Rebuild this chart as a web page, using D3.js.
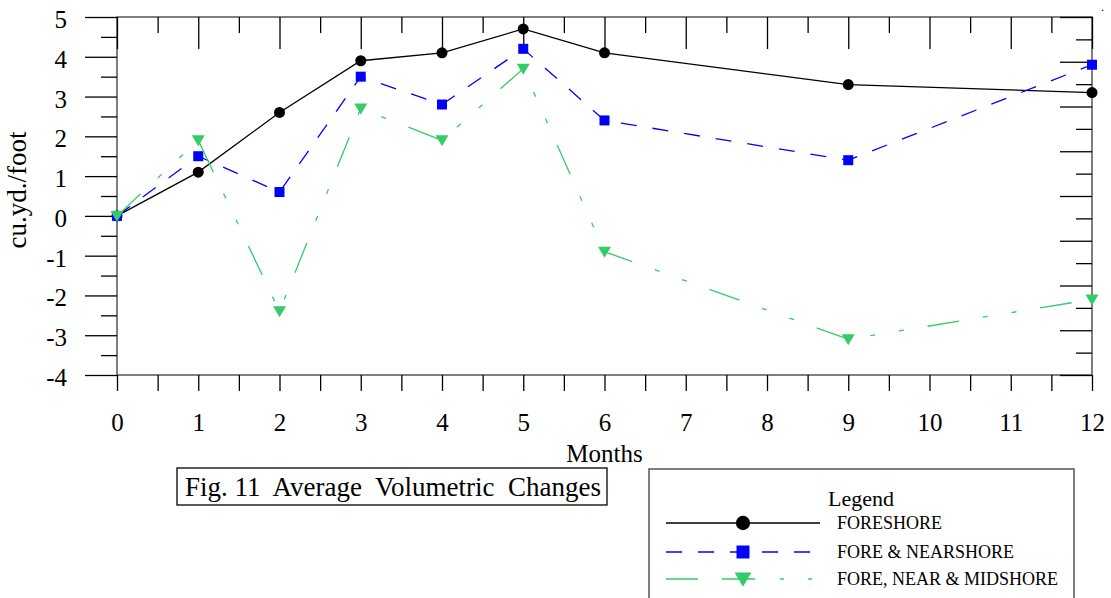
<!DOCTYPE html>
<html>
<head>
<meta charset="utf-8">
<script src="https://cdn.jsdelivr.net/npm/d3@7"></script>
<style>
  body { margin: 0; background: #fff; }
  svg { display: block; font-family: "Liberation Serif", "Times New Roman", serif; }
  .domain { display: none; }
</style>
</head>
<body>
<svg id="chart" width="1111" height="598"></svg>
<script>
// ---- data ----
var months = [0, 1, 2, 3, 4, 5, 6, 9, 12];
var foreshore = [0, 1.1, 2.6, 3.9, 4.1, 4.7, 4.1, 3.3, 3.1];
var foreNear = [0, 1.5, 0.6, 3.5, 2.8, 4.2, 2.4, 1.4, 3.8];
var foreNearMid = [0, 1.9, -2.4, 2.7, 1.9, 3.7, -0.9, -3.1, -2.1];
var seriesNames = ["FORESHORE", "FORE & NEARSHORE", "FORE, NEAR & MIDSHORE"];
var xTickLabels = d3.range(0, 13);
var yTickLabels = d3.range(-4, 6);

var svg = d3.select("#chart");
var margin = { left: 117, right: 19, top: 17, bottom: 223 };
var W = 1111, H = 598;
var serif = "'Liberation Serif', 'Times New Roman', serif";

var x = d3.scaleLinear().domain([0, 12]).range([margin.left, W - margin.right]);
var y = d3.scaleLinear().domain([-4, 5]).range([H - margin.bottom, margin.top]);
// right-hand frame carries its own unlabelled divisions
var yRight = d3.scaleLinear().domain([0, 8]).range([H - margin.bottom, margin.top]);

var series = [
    { name: seriesNames[0], values: foreshore, color: "#000000", dash: null, legendDash: null, marker: "circle" },
    { name: seriesNames[1], values: foreNear, color: "#0000ff", dash: "16,16", legendDash: "16,16", marker: "square" },
    { name: seriesNames[2], values: foreNearMid, color: "#33cc66", dash: "32,24,5,24,5,24", legendDash: "32,24,33,25,4,24,4,20", marker: "triangle" }
];

function styleTicks(g) {
    g.attr("font-family", serif);
    g.selectAll(".tick line").attr("stroke", "#000").attr("stroke-width", 1.3);
    g.selectAll(".tick text").attr("fill", "#000");
}

// ---- frame ----
svg.append("rect")
    .attr("x", x(0)).attr("y", y(5))
    .attr("width", x(12) - x(0)).attr("height", y(-4) - y(5))
    .attr("fill", "none").attr("stroke", "#555").attr("stroke-width", 1.5);

// left axis: labelled integers, minor half ticks, all outside
svg.append("g").attr("transform", "translate(" + x(0) + ",0)")
    .call(d3.axisLeft(y).tickValues(yTickLabels).tickSize(32).tickFormat(function (d) { return String(d); }))
    .call(styleTicks)
    .call(function (g) {
        g.selectAll(".tick text").attr("font-size", 25).attr("dy", "0.42em").attr("x", -50);
    });
svg.append("g").attr("transform", "translate(" + x(0) + ",0)")
    .call(d3.axisLeft(y).tickValues(d3.range(-3.5, 5, 1)).tickSize(16).tickFormat(""))
    .call(styleTicks);

// bottom axis: labelled months, half ticks, all same length outside
svg.append("g").attr("transform", "translate(0," + y(-4) + ")")
    .call(d3.axisBottom(x).tickValues(xTickLabels).tickSize(16).tickPadding(22).tickFormat(function (d) { return String(d); }))
    .call(styleTicks)
    .call(function (g) { g.selectAll(".tick text").attr("font-size", 25); });
svg.append("g").attr("transform", "translate(0," + y(-4) + ")")
    .call(d3.axisBottom(x).tickValues(d3.range(0.5, 12, 1)).tickSize(16).tickFormat(""))
    .call(styleTicks);

// top axis: inward ticks
svg.append("g").attr("transform", "translate(0," + y(5) + ")")
    .call(d3.axisTop(x).tickValues(xTickLabels).tickSize(-32).tickFormat(""))
    .call(styleTicks);
svg.append("g").attr("transform", "translate(0," + y(5) + ")")
    .call(d3.axisTop(x).tickValues(d3.range(0.5, 12, 1)).tickSize(-16).tickFormat(""))
    .call(styleTicks);

// right axis: inward ticks
svg.append("g").attr("transform", "translate(" + x(12) + ",0)")
    .call(d3.axisRight(yRight).tickValues(d3.range(0, 9)).tickSize(-32).tickFormat(""))
    .call(styleTicks);
svg.append("g").attr("transform", "translate(" + x(12) + ",0)")
    .call(d3.axisRight(yRight).tickValues(d3.range(0.5, 8, 1)).tickSize(-16).tickFormat(""))
    .call(styleTicks);

// axis titles
svg.append("text")
    .attr("x", (x(0) + x(12)) / 2).attr("y", 462)
    .attr("text-anchor", "middle").attr("font-size", 25)
    .text("Months");
svg.append("text")
    .attr("transform", "translate(26,190) rotate(-90)")
    .attr("text-anchor", "middle").attr("font-size", 27)
    .text("cu.yd./foot");

svg.append("text").attr("x", 1101).attr("y", 11).attr("font-size", 12).text(".");

// ---- markers ----
function drawMarker(g, type, color, k) {
    k = k || 1;
    if (type === "circle") {
        g.append("circle").attr("r", 5.5 * k).attr("fill", color);
    } else if (type === "square") {
        g.append("rect").attr("x", -5 * k).attr("y", -5 * k).attr("width", 10 * k).attr("height", 10 * k).attr("fill", color);
    } else {
        g.append("path").attr("d", "M-6.5,-5L6.5,-5L0,6Z").attr("transform", "scale(" + k + ")").attr("fill", color);
    }
}

var line = d3.line()
    .x(function (d, i) { return x(months[i]); })
    .y(function (d) { return y(d); });

series.forEach(function (s) {
    svg.append("path")
        .datum(s.values)
        .attr("d", line)
        .attr("fill", "none")
        .attr("stroke", s.color)
        .attr("stroke-width", 1.3)
        .attr("stroke-dasharray", s.dash);
    s.values.forEach(function (v, i) {
        var g = svg.append("g").attr("transform", "translate(" + x(months[i]) + "," + y(v) + ")");
        drawMarker(g, s.marker, s.color);
    });
});

// ---- title box ----
svg.append("rect")
    .attr("x", 177).attr("y", 468).attr("width", 430).attr("height", 37)
    .attr("fill", "none").attr("stroke", "#000").attr("stroke-width", 1.3);
svg.append("text")
    .attr("x", 185).attr("y", 496)
    .attr("font-size", 27)
    .style("white-space", "pre")
    .text("Fig. 11  Average  Volumetric  Changes");

// ---- legend ----
var legend = svg.append("g");
legend.append("rect")
    .attr("x", 649).attr("y", 469).attr("width", 425).attr("height", 200)
    .attr("fill", "none").attr("stroke", "#555").attr("stroke-width", 1.5);
legend.append("text")
    .attr("x", 861).attr("y", 506)
    .attr("text-anchor", "middle").attr("font-size", 22)
    .text("Legend");

var rowY = [523, 552, 579];
series.forEach(function (s, i) {
    var ly = rowY[i];
    legend.append("line")
        .attr("x1", 666).attr("x2", 820).attr("y1", ly).attr("y2", ly)
        .attr("stroke", s.color).attr("stroke-width", 1.3)
        .attr("stroke-dasharray", s.legendDash);
    var g = legend.append("g").attr("transform", "translate(743," + ly + ")");
    drawMarker(g, s.marker, s.color, 1.3);
    legend.append("text")
        .attr("x", 837).attr("y", ly + 6)
        .attr("font-size", 18)
        .text(s.name);
});
</script>
</body>
</html>
